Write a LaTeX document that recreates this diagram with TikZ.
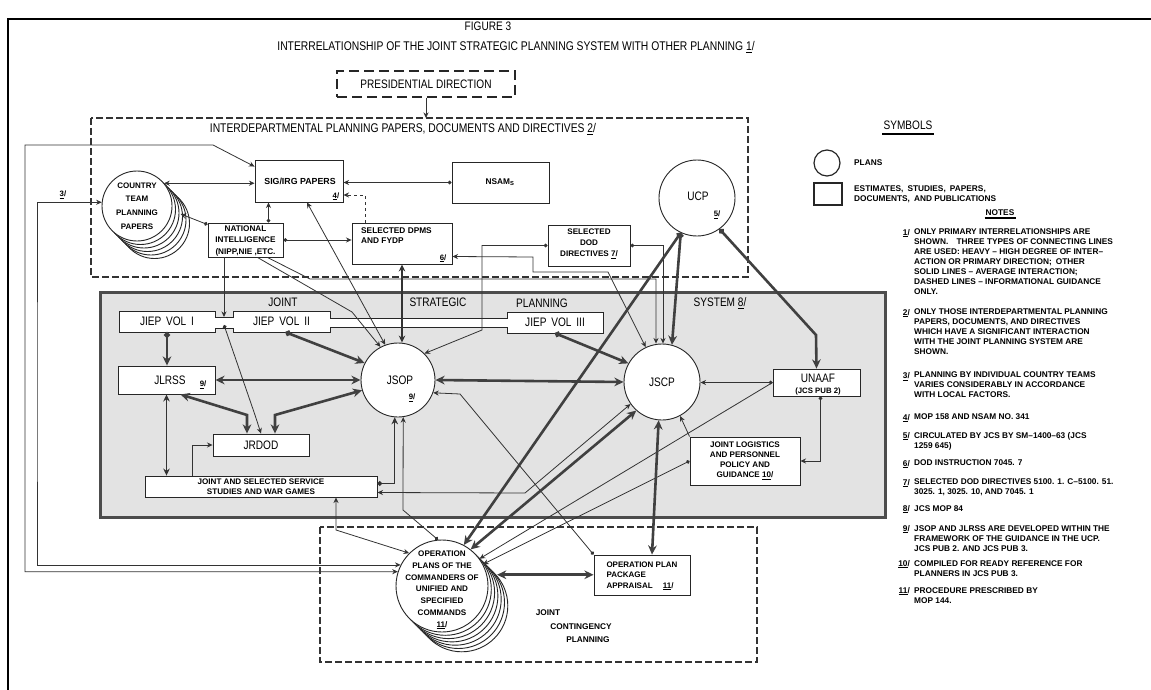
\documentclass[tikz,border=0pt]{standalone}
\usepackage{fontspec}
\setmainfont{Liberation Sans}
\newfontfamily\cond[FakeStretch=0.82]{Liberation Sans}
\usetikzlibrary{arrows.meta,positioning}
\newcommand\fn[1]{\underline{#1}/}
\begin{document}
\begin{tikzpicture}[x=1pt,y=-1pt,
  ln/.style={draw=black!80,line width=0.8pt},
  md/.style={draw=black!80,line width=1.5pt},
  hv/.style={draw=black!75,line width=2.6pt},
  >={Stealth[length=4pt 2,width=3.5pt 2]},
  dt/.style={arrows={Circle[length=3pt 1]}-{Stealth[length=4pt 2,width=3.5pt 2]}},
  box/.style={draw=black!85,line width=0.9pt,fill=white,inner sep=0pt},
  plan/.style={circle,draw=black!85,line width=0.9pt,fill=white,inner sep=0pt},
  planline/.style={draw=black!85,line width=0.9pt,fill=white},
  dashbox/.style={draw=black!80,line width=2.4pt,dash pattern=on 7pt off 3pt},
  pbox/.style={draw=black!85,line width=1.3pt,dash pattern=on 10pt off 5pt,inner sep=0pt},
  big/.style={font=\cond\fontsize{12.3}{13}\selectfont,inner sep=1pt},
  sml/.style={font=\bfseries\fontsize{8.3}{10}\selectfont,inner sep=1pt,align=center},
  fnote/.style={font=\bfseries\fontsize{7.8}{9}\selectfont,inner sep=1pt},
  note/.style={font=\bfseries\fontsize{8.3}{10}\selectfont,align=left,inner sep=0pt,anchor=north west},
  nmark/.style={font=\bfseries\fontsize{8.3}{10}\selectfont,inner sep=0pt,anchor=north east},
]
\useasboundingbox (0,0) rectangle (1151,690);
\draw[line width=2.2pt] (8,690) -- (8,19) -- (1151,19);

\node[big] (fig) at (488,26) {FIGURE 3};
\node[big,font=\cond\fontsize{12.6}{13}\selectfont] (ttl) at (516,47) {INTERRELATIONSHIP OF THE JOINT STRATEGIC PLANNING SYSTEM WITH OTHER PLANNING \fn{1}};
\node[pbox,big,minimum width=178pt,minimum height=26pt] (pres) at (426,84) {PRESIDENTIAL DIRECTION};

% interdepartmental papers
\draw[dashbox] (91,118) rectangle (748,277);
\coordinate (ipptop) at (426,118);
\node[big,font=\cond\fontsize{12.6}{13}\selectfont] (ipp) at (403,129) {INTERDEPARTMENTAL PLANNING PAPERS, DOCUMENTS AND DIRECTIVES \fn{2}};

\foreach \k in {5,4,...,1}
  \draw[planline] (137+3.5*\k,206+3.5*\k) circle[radius=35pt];
\node[plan,minimum size=70pt] (ctp) at (137,206) {};
\node[sml,font=\bfseries\fontsize{8}{13.7}\selectfont] (ctpt) at (137,206) {COUNTRY\\TEAM\\PLANNING\\PAPERS};

\node[box,minimum width=88pt,minimum height=42pt] (sig) at (299,181) {};
\node[sml,font=\bfseries\fontsize{8.8}{10}\selectfont] (sigt) at (300,181) {SIG/IRG PAPERS};
\node[fnote,above left=1pt and 3pt of sig.south east] (sigf) {\fn{4}};

\node[box,minimum width=97pt,minimum height=41pt] (nsam) at (500.5,182.5) {};
\node[sml] (nsamt) at (500,182) {NSAM\textsubscript{S}};

\node[box,minimum width=75pt,minimum height=34pt] (ni) at (245.5,240) {};
\node[sml,font=\bfseries\fontsize{8.2}{11.5}\selectfont] (nit) at (245.5,240.5) {NATIONAL\\INTELLIGENCE\\(NIPP,NIE ,ETC.};

\node[box,minimum width=100pt,minimum height=41pt] (dpms) at (402,243.5) {};
\node[sml,align=left,anchor=north west] (dpmst) at (360,227) {SELECTED DPMS\\AND FYDP};
\node[fnote,above left=1pt and 5pt of dpms.south east] (dpmsf) {\fn{6}};

\node[box,minimum width=82pt,minimum height=41pt] (dod) at (589,245.5) {};
\node[sml,font=\bfseries\fontsize{8.1}{11}\selectfont] (dodt) at (589,244) {SELECTED\\DOD\\DIRECTIVES \fn{7}};

\node[plan,minimum size=76pt] (ucp) at (697,198) {};
\node[big] (ucpt) at (698,196) {UCP};
\node[fnote] (ucpf) at (717,215) {\fn{5}};

% joint strategic planning system
\draw[draw=black!70,line width=3pt,fill=black!11] (100,292) rectangle (885,517);
\node[big] (lj) at (283,302) {JOINT};
\node[big] (ls) at (438,302) {STRATEGIC};
\node[big] (lp) at (542,303) {PLANNING};
\node[big] (lsy) at (720,303) {SYSTEM \fn{8}};

\draw[draw=black!85,line width=0.9pt,fill=white] (119,311) -- (215,311) -- (215,317) -- (233,317) -- (233,311)
  -- (330,311) -- (330,318) -- (507,318) -- (507,312) -- (603,312) -- (603,333) -- (507,333) -- (507,327)
  -- (330,327) -- (330,332) -- (233,332) -- (233,328) -- (215,328) -- (215,332) -- (119,332) -- cycle;
\node[big,minimum width=96pt,minimum height=21pt,inner sep=0pt] (jiep1) at (167,321.5) {JIEP\, VOL\, I};
\node[big,minimum width=97pt,minimum height=21pt,inner sep=0pt] (jiep2) at (281.5,321.5) {JIEP\, VOL\, II};
\node[big,minimum width=96pt,minimum height=21pt,inner sep=0pt] (jiep3) at (555,322.5) {JIEP\, VOL\, III};
\coordinate (notch) at (224,317);
\coordinate (notchdot) at (224,325);

\node[box,minimum width=97pt,minimum height=28pt] (jlrss) at (166.5,380) {};
\node[big] (jlrsst) at (170,380) {JLRSS};
\node[fnote] (jlrssf) at (203,385) {\fn{9}};

\node[plan,minimum size=74pt] (jsop) at (398,380) {};
\node[big] (jsopt) at (400,380) {JSOP};
\node[fnote] (jsopf) at (412,398) {\fn{9}};

\node[box,big,minimum width=96pt,minimum height=22pt] (jrdod) at (261,445) {JRDOD};
\node[box,sml,font=\bfseries\fontsize{8.1}{9.6}\selectfont,minimum width=232pt,minimum height=21pt] (jss) at (261,486.5) {JOINT AND SELECTED SERVICE\\STUDIES AND WAR GAMES};

\node[plan,minimum size=76pt] (jscp) at (662,382) {};
\node[big] (jscpt) at (662,382) {JSCP};

\node[box,minimum width=87pt,minimum height=27pt] (unaaf) at (816.5,382.5) {};
\node[big] (unaaft) at (818,378.5) {UNAAF};
\node[fnote] (unaafs) at (818,391.5) {(JCS PUB 2)};

\node[box,sml,font=\bfseries\fontsize{8.1}{10}\selectfont,minimum width=110pt,minimum height=48pt] (jlog) at (745,461) {JOINT LOGISTICS\\AND PERSONNEL\\POLICY AND\\GUIDANCE \fn{10}};

% joint contingency planning
\draw[dashbox] (320,527) rectangle (757,662);
\foreach \k in {6,5,...,1}
  \draw[planline] (442+3.3*\k,586+3.3*\k) circle[radius=46pt];
\node[plan,minimum size=92pt] (op) at (442,586) {};
\node[sml,font=\bfseries\fontsize{8.1}{11.8}\selectfont] (opt) at (442,590) {OPERATION\\PLANS OF THE\\COMMANDERS OF\\UNIFIED AND\\SPECIFIED\\COMMANDS\\\fn{11}};

\node[box,minimum width=96pt,minimum height=40pt] (oppa) at (642,575) {};
\node[sml,align=left,font=\bfseries\fontsize{8}{10.5}\selectfont] (oppat) at (642,576) {OPERATION PLAN\\PACKAGE\\APPRAISAL\quad\ \fn{11}};

\node[sml] (jc1) at (548,613) {JOINT};
\node[sml] (jc2) at (581,627) {CONTINGENCY};
\node[sml] (jc3) at (588,640) {PLANNING};

\node[fnote] (m3) at (63,195) {\fn{3}};

% connectors
\draw[ln,->] (pres.south) -- (ipptop);
\draw[ln,<->] (sig.162) -- (213,145) -- (25,145) |- (op.162);
\draw[ln,<->] (ctp.174) -| (37,400) |- (op.153);
\draw[ln,<->] (ctp.40) -- (sig.west |- ctp.40);
\draw[ln,dt] (nsam.west) -- (sig.east |- nsam.west);
\draw[ln,dashed,->] ([xshift=-37pt]dpms.north) |- ([yshift=-14pt]sig.east);
\draw[ln,dt] ([yshift=-2pt]ni.north west) -- ([xshift=9pt]ctp.-13);
\draw[ln,dt] ([xshift=23pt]ni.north) -- ([xshift=23pt]ni.north |- sig.south);
\draw[ln,dt] (ni.east) -- (dpms.west |- ni.east);
\draw[ln,->] (ni.south -| notch) -- (notch);
\draw[ln,->] ([xshift=12pt]ni.south) -- (352,312) -- (jsop.118);
\draw[ln,->] ([xshift=22pt]ni.south) -- (310,279) -| ([xshift=-6pt]jscp.north);
\draw[ln,<->] ([xshift=8pt]sig.south) -- (jsop.110);
\draw[md,<->] (dpms.south) -- (dpms.south |- jsop.north);
\draw[ln,dt] (dod.west) -| (482,330) -- (jsop.45);
\draw[ln,dt] (dod.east) -| ([xshift=1pt]jscp.north);
\draw[ln,<->] ([yshift=-13pt]dpms.east) -- (533,257) -- (533,272) -- (608,272) -- (jscp.115);

\draw[hv,dt] (ucp.245) -- (jscp.75);
\draw[hv,dt] (ucp.245) -- (op.62);
\draw[hv,dt] (ucp.306) -- (816,335) -- (unaaf.north);
\draw[ln,dt] (unaaf.west) -- (jscp.east |- unaaf.west);
\draw[ln,->] (unaaf.west) -- (op.36);
\draw[ln,dt] (jlog.west) -- (op.28);
\draw[ln,->] (jlog.north west) -- (jscp.-62);
\draw[ln,dt] ([xshift=4pt]unaaf.south) |- (jlog.east);
\draw[hv,<->] (jscp.-95) -- ([xshift=10pt]oppa.north);
\draw[ln,dt] (oppa.north west) -- (460,394) -- (jsop.-20);
\draw[ln,dt] (op.95) -- (403,510) -- (jsop.-82);
\draw[ln,<->] ([yshift=-6pt]jss.east) -- (525,493) -- (jscp.215);
\draw[md,dt] ([yshift=3pt]jss.east) -| (jsop.-95);
\draw[ln,<->] ([xshift=75pt]jss.south) -- (336,530) -- (op.135);
\draw[md,<->] (jlrss.south) -- (jlrss.south |- jss.north);
\draw[ln,->] ([xshift=-69pt]jss.north) |- (jrdod.west);
\draw[hv,dt] (jiep1.south) -- (jiep1.south |- jlrss.north);
\draw[hv,dt] ([xshift=4pt]jiep2.south) -- (jsop.153);
\draw[hv,dt] (jiep3.south) -- (jscp.151);
\draw[hv,<->] (jlrss.east) -- (jsop.west);
\draw[hv,<->] (jsop.east) -- (jscp.west);
\draw[hv,<->] ([xshift=14pt]jlrss.south) -- (247,415) -- ([xshift=-14pt]jrdod.north);
\draw[hv,<->] (jsop.196) -- (275,415) -- ([xshift=14pt]jrdod.north);
\draw[ln,dt] (notchdot) -- (255,415) -- (jrdod.north);
\draw[hv,<->] ([xshift=10pt]op.14) -- (oppa.west |- op.14);
\draw[hv,<->] (op.52) -- (jscp.228);

% symbols and notes
\node[big] (sym) at (908,125) {SYMBOLS};
\draw[line width=2pt] ([yshift=-3pt]sym.south west) -- ([yshift=-3pt]sym.south east);
\node[plan,minimum size=26pt,line width=1.2pt] (lgc) at (827,163) {};
\node[sml,anchor=west] (lgct) at (853,163) {PLANS};
\node[box,minimum width=28pt,minimum height=22pt,line width=1.4pt] (lgr) at (828,194) {};
\node[sml,anchor=west,align=left] (lgrt) at (853,194.5) {ESTIMATES,\enspace STUDIES,\enspace PAPERS,\\DOCUMENTS,\enspace AND PUBLICATIONS};
\node[sml] (nts) at (1000,213) {NOTES};
\draw[line width=1.6pt] ([yshift=-1pt]nts.south west) -- ([yshift=-1pt]nts.south east);

\node[nmark] (m1) at (910,229) {\fn{1}};
\node[note] (n1) at (914,229) {ONLY PRIMARY INTERRELATIONSHIPS ARE\\SHOWN.\quad THREE TYPES OF CONNECTING LINES\\ARE USED: HEAVY -- HIGH DEGREE OF INTER--\\ACTION OR PRIMARY DIRECTION;\enspace OTHER\\SOLID LINES -- AVERAGE INTERACTION;\\DASHED LINES -- INFORMATIONAL GUIDANCE\\ONLY.};
\node[nmark] (m2) at (910,309) {\fn{2}};
\node[note] (n2) at (914,309) {ONLY THOSE INTERDEPARTMENTAL PLANNING\\PAPERS, DOCUMENTS, AND DIRECTIVES\\WHICH HAVE A SIGNIFICANT INTERACTION\\WITH THE JOINT PLANNING SYSTEM ARE\\SHOWN.};
\node[nmark] (m3n) at (910,372) {\fn{3}};
\node[note] (n3) at (914,372) {PLANNING BY INDIVIDUAL COUNTRY TEAMS\\VARIES CONSIDERABLY IN ACCORDANCE\\WITH LOCAL FACTORS.};
\node[nmark] (m4) at (910,414) {\fn{4}};
\node[note] (n4) at (914,414) {MOP 158 AND NSAM NO. 341};
\node[nmark] (m5) at (910,432) {\fn{5}};
\node[note] (n5) at (914,432) {CIRCULATED BY JCS BY SM--1400--63 (JCS\\1259 645)};
\node[nmark] (m6) at (910,460) {\fn{6}};
\node[note] (n6) at (914,460) {DOD INSTRUCTION 7045. 7};
\node[nmark] (m7) at (910,479) {\fn{7}};
\node[note] (n7) at (914,479) {SELECTED DOD DIRECTIVES 5100. 1. C--5100. 51.\\3025. 1, 3025. 10, AND 7045. 1};
\node[nmark] (m8) at (910,505) {\fn{8}};
\node[note] (n8) at (914,505) {JCS MOP 84};
\node[nmark] (m9) at (910,525) {\fn{9}};
\node[note] (n9) at (914,525) {JSOP AND JLRSS ARE DEVELOPED WITHIN THE\\FRAMEWORK OF THE GUIDANCE IN THE UCP.\\JCS PUB 2. AND JCS PUB 3.};
\node[nmark] (m10) at (910,560) {\fn{10}};
\node[note] (n10) at (914,560) {COMPILED FOR READY REFERENCE FOR\\PLANNERS IN JCS PUB 3.};
\node[nmark] (m11) at (910,587) {\fn{11}};
\node[note] (n11) at (914,587) {PROCEDURE PRESCRIBED BY\\MOP 144.};
\end{tikzpicture}
\end{document}
